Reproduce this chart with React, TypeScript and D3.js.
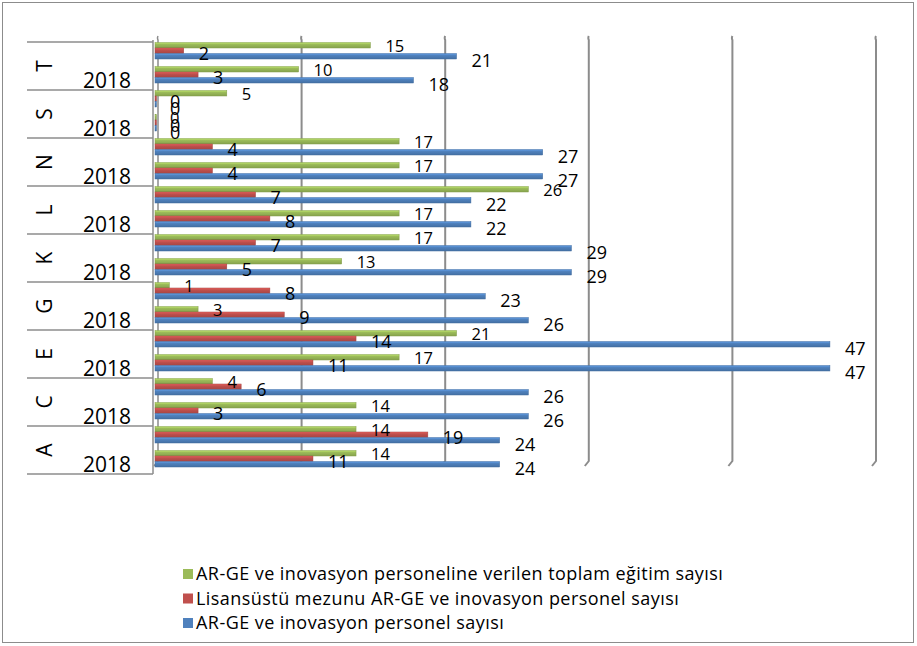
import * as d3 from 'd3'

// categories bottom -> top as Excel draws them
const categories = ['A', 'C', 'E', 'G', 'K', 'L', 'N', 'S', 'T']
// inner level: upper row has no label, lower row is 2018
const subLabels = ['', '2018']

const seriesNames = [
  'AR-GE ve inovasyon personeline verilen toplam eğitim sayısı',
  'Lisansüstü mezunu AR-GE ve inovasyon personel sayısı',
  'AR-GE ve inovasyon personel sayısı',
]
const seriesColors = ['#9BBB59', '#C0504D', '#4F81BD']

// values per category (A..T), upper row and 2018 row
const egitimUpper = [14, 4, 21, 1, 17, 26, 17, 5, 15]
const egitim2018 = [14, 14, 17, 3, 13, 17, 17, 0, 10]
const lisansustuUpper = [19, 6, 14, 8, 7, 7, 4, 0, 2]
const lisansustu2018 = [11, 3, 11, 9, 5, 8, 4, 0, 3]
const personelUpper = [24, 26, 47, 23, 29, 22, 27, 0, 21]
const personel2018 = [24, 26, 47, 26, 29, 22, 27, 0, 18]

const gridTicks = [0, 10, 20, 30, 40, 50]

const W = 917
const H = 646
const FONT = '"Open Sans", "DejaVu Sans", sans-serif'

export default function App() {
  const values = [
    [egitimUpper, egitim2018],
    [lisansustuUpper, lisansustu2018],
    [personelUpper, personel2018],
  ]

  // rows top -> bottom
  const topDown = [...categories].reverse()
  const rows = topDown.flatMap(cat =>
    subLabels.map((sub, si) => ({ cat, sub, si, ci: categories.indexOf(cat), key: cat + '-' + si }))
  )

  const x = d3.scaleLinear().domain([0, 50]).range([155, 873])
  const yRow = d3.scaleBand<string>().domain(rows.map(r => r.key)).range([42, 474])
  const ySer = d3.scaleBand<string>().domain(['0', '1', '2']).range([0.5, 17])
  const yCat = d3.scaleBand<string>().domain(topDown).range([42, 474])

  const labelDy = [1, 3, 4]
  const labelSize = [16.5, 18, 18]

  return (
    <svg width={W} height={H} style={{ position: 'absolute', left: 0, top: 0, background: '#fff' }} fontFamily={FONT}>
      <defs>
        {seriesColors.map((c, i) => {
          const col = d3.color(c)!
          return (
            <linearGradient key={i} id={'g' + i} x1="0" y1="0" x2="0" y2="1">
              <stop offset="0" stopColor={col.brighter(0.6).formatHex()} />
              <stop offset="0.35" stopColor={c} />
              <stop offset="1" stopColor={col.darker(0.4).formatHex()} />
            </linearGradient>
          )
        })}
      </defs>
      <rect x={2.5} y={2.5} width={911} height={640} fill="#fff" stroke="#8c8c8c" strokeWidth={1} />

      {/* grid lines with 3D floor slant */}
      {gridTicks.map(t => {
        const gx = x(t) + 3
        return (
          <path
            key={t}
            d={`M${gx},36 Q${gx - 1},38 ${gx},40 L${gx},461 L${gx - 4},466`}
            fill="none"
            stroke="#8c8c8c"
            strokeWidth={t === 0 ? 1.5 : 2}
          />
        )
      })}
      <line x1={153} x2={153} y1={40} y2={474} stroke="#8c8c8c" strokeWidth={1.5} />

      {/* category separators */}
      {d3.range(categories.length + 1).map(i => {
        const yy = 42 + i * yCat.bandwidth()
        return <line key={i} x1={27} x2={153} y1={yy} y2={yy} stroke="#8c8c8c" strokeWidth={1.5} />
      })}

      {/* bars */}
      {rows.map(r =>
        values.map((sv, s) => {
          const v = sv[r.si][r.ci]
          const y0 = yRow(r.key)! + ySer(String(s))!
          const w = Math.max(x(v) - x(0), 1.5)
          const col = d3.color(seriesColors[s])!.darker(0.5).formatHex()
          return (
            <rect
              key={r.key + s}
              x={x(0)}
              y={y0}
              width={w}
              height={ySer.bandwidth()}
              fill={`url(#g${s})`}
              stroke={col}
              strokeWidth={0.5}
            />
          )
        })
      )}

      {/* data labels */}
      {rows.map(r =>
        values.map((sv, s) => {
          const v = sv[r.si][r.ci]
          const cy = yRow(r.key)! + ySer(String(s))! + ySer.bandwidth() / 2 + labelDy[s]
          return (
            <text key={'l' + r.key + s} x={x(v) + 15} y={cy} dy="0.36em" fontSize={labelSize[s]} fill="#000">
              {v}
            </text>
          )
        })
      )}

      {/* inner category labels */}
      {rows.map(r => (
        <text key={'s' + r.key} x={107} y={yRow(r.key)! + yRow.bandwidth() / 2 + 2} dy="0.36em" fontSize={21} textAnchor="middle" fill="#000">
          {r.sub}
        </text>
      ))}

      {/* outer category labels */}
      {topDown.map(c => (
        <text
          key={'c' + c}
          transform={`translate(44,${yCat(c)! + yCat.bandwidth() / 2}) rotate(-90)`}
          dy="0.36em"
          fontSize={21}
          textAnchor="middle"
          fill="#000"
        >
          {c}
        </text>
      ))}

      {/* legend */}
      {seriesNames.map((n, i) => {
        const ly = 574 + i * 24.5
        return (
          <g key={n}>
            <rect x={183} y={ly - 5} width={10} height={10} fill={seriesColors[i]} />
            <text x={196} y={ly} dy="0.36em" fontSize={18} letterSpacing={0.45} fill="#000">
              {n}
            </text>
          </g>
        )
      })}
    </svg>
  )
}
